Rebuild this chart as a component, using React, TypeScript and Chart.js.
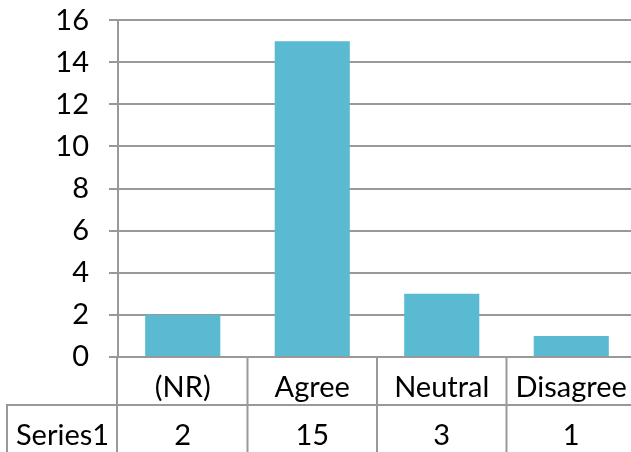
import React, { useEffect, useRef } from "react";
import { Chart, registerables } from "chart.js";

Chart.register(...registerables);

const categories = ["(NR)", "Agree", "Neutral", "Disagree"];
const series1 = [2, 15, 3, 1];
const seriesName = "Series1";
const yMin = 0;
const yMax = 16;
const yStep = 2;

const FONT_FAMILY = "Lato, 'Open Sans', sans-serif";
const FONT_SIZE = 29;
const GRID = "#999999";
const BAR = "#59BAD1";

const tablePlugin = {
  id: "dataTable",
  afterDraw(chart: any) {
    const { ctx, chartArea, scales } = chart;
    const xs = scales.x;
    const top = chartArea.bottom;
    const rowH = 48;
    const mid = top + rowH;
    const H = chart.height + 10;
    const leftX = 7;
    const n = categories.length;
    const cw = n > 1 ? xs.getPixelForValue(1) - xs.getPixelForValue(0) : chartArea.width;
    ctx.save();
    ctx.strokeStyle = GRID;
    ctx.lineWidth = 2;
    ctx.beginPath();
    ctx.moveTo(chartArea.left - 1, top);
    ctx.lineTo(chartArea.left - 1, H);
    for (let i = 0; i < n; i++) {
      const bx = xs.getPixelForValue(i) + cw / 2;
      ctx.moveTo(bx, top);
      ctx.lineTo(bx, H);
    }
    ctx.moveTo(leftX, mid);
    ctx.lineTo(chartArea.right + 2, mid);
    ctx.moveTo(leftX, mid - 1);
    ctx.lineTo(leftX, H);
    ctx.stroke();

    ctx.fillStyle = "#000000";
    ctx.font = `${FONT_SIZE}px ${FONT_FAMILY}`;
    ctx.textAlign = "center";
    ctx.textBaseline = "alphabetic";
    for (let i = 0; i < n; i++) {
      const cx = xs.getPixelForValue(i);
      ctx.fillText(categories[i], cx, top + 40);
      ctx.fillText(String(series1[i]), cx, mid + 40);
    }
    ctx.fillText(seriesName, (leftX + chartArea.left) / 2, mid + 40);
    ctx.restore();
  },
};

export default function App() {
  const ref = useRef<HTMLCanvasElement | null>(null);
  useEffect(() => {
    if (!ref.current) return;
    const chart = new Chart(ref.current, {
      type: "bar",
      data: {
        labels: categories,
        datasets: [
          {
            label: seriesName,
            data: series1,
            backgroundColor: BAR,
            borderWidth: 0,
            categoryPercentage: 1,
            barPercentage: 0.58,
          },
        ],
      },
      options: {
        responsive: false,
        animation: false,
        layout: { padding: { top: 20, bottom: 95, left: 0, right: 0 } },
        plugins: { legend: { display: false }, tooltip: { enabled: false } },
        scales: {
          x: { display: false },
          y: {
            min: yMin,
            max: yMax,
            ticks: {
              stepSize: yStep,
              padding: 20,
              color: "#000000",
              font: { family: FONT_FAMILY, size: FONT_SIZE, lineHeight: 0.01 },
            },
            grid: { color: GRID, lineWidth: 2, tickLength: 9, drawTicks: true },
            border: { display: true, color: GRID, width: 2 },
            afterFit(scale: any) {
              scale.width = 118;
            },
          },
        },
      },
      plugins: [tablePlugin],
    });
    return () => chart.destroy();
  }, []);
  return (
    <div style={{ position: "absolute", left: 0, top: 0, width: 631, height: 452, overflow: "hidden", background: "#fff" }}>
      <canvas ref={ref} width={636} height={452} style={{ display: "block" }} />
    </div>
  );
}
